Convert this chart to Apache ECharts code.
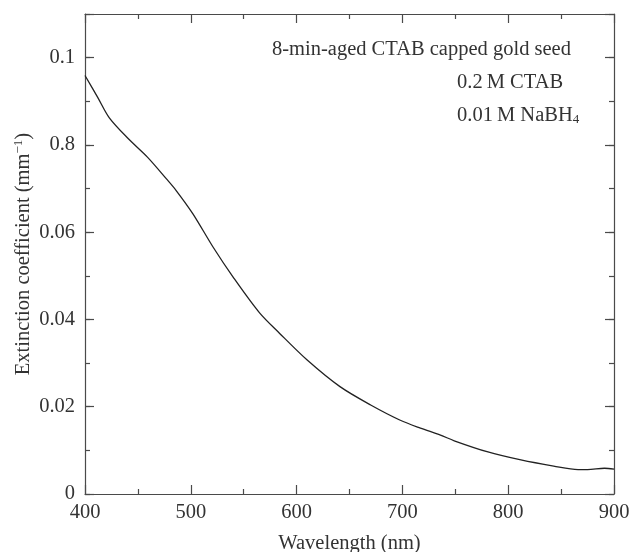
<!DOCTYPE html>
<html>
<head>
<meta charset="utf-8">
<script src="https://cdn.jsdelivr.net/npm/echarts@6/dist/echarts.min.js"></script>
<style>
html,body{margin:0;padding:0;background:#fff;}
#chart{width:633px;height:552px;}
</style>
</head>
<body>
<div id="chart"></div>
<script>
// Data
const wavelength = [400, 412, 423, 441, 459, 477, 486, 502, 521, 540, 565, 584, 610, 641, 670, 698, 717, 736, 749, 780, 812, 843, 866, 875, 891, 900];
const extinction = [0.0959, 0.0909, 0.0862, 0.0814, 0.0772, 0.0722, 0.0696, 0.0642, 0.0566, 0.0497, 0.0415, 0.0368, 0.0307, 0.0246, 0.0204, 0.0169, 0.0151, 0.0135, 0.0122, 0.0097, 0.0078, 0.0064, 0.0056, 0.0056, 0.0059, 0.0057];
const xTickLabels = ['400', '500', '600', '700', '800', '900'];
const yTickValues = [0, 0.02, 0.04, 0.06, 0.08, 0.1];
const yTickLabels = ['0', '0.02', '0.04', '0.06', '0.8', '0.1'];
const annotations = ['8-min-aged CTAB capped gold seed', '0.2\u2009M CTAB', '0.01\u2009M NaBH{sub|4}'];

const FONT = 'Liberation Serif';
const TXT = '#333';
const AX = '#4a4a4a';

const seriesData = wavelength.map((w, i) => [w, extinction[i]]);

function yFmt(v) {
  for (let i = 0; i < yTickValues.length; i++) {
    if (Math.abs(v - yTickValues[i]) < 1e-9) return yTickLabels[i];
  }
  return '';
}
function xFmt(v) {
  const s = String(Math.round(v));
  return xTickLabels.indexOf(s) >= 0 ? s : '';
}

const axisLine = { show: true, onZero: false, lineStyle: { color: AX, width: 1.2 } };
const noLine = { show: false, onZero: false };

const chart = echarts.init(document.getElementById('chart'), null, { renderer: 'canvas' });
chart.setOption({
  backgroundColor: '#fff',
  animation: false,
  grid: { left: 85, right: 19, top: 14, bottom: 58, containLabel: false, outerBoundsMode: 'none' },
  xAxis: [
    {
      type: 'value', position: 'bottom', min: 400, max: 900, interval: 100,
      axisLine: axisLine,
      axisTick: { show: true, inside: true, length: 9, lineStyle: { color: AX, width: 1.2 } },
      minorTick: { show: true, splitNumber: 2, length: 5, lineStyle: { color: AX, width: 1.2 } },
      splitLine: { show: false },
      axisLabel: { show: true, margin: 8, formatter: xFmt, color: TXT, fontFamily: FONT, fontSize: 20.5 },
      name: 'Wavelength (nm)', nameLocation: 'middle', nameGap: 39, nameMoveOverlap: false,
      nameTextStyle: { color: TXT, fontFamily: FONT, fontSize: 20.5 }
    },
    {
      type: 'value', position: 'top', min: 400, max: 900, interval: 100,
      axisLine: axisLine,
      axisTick: { show: true, inside: true, length: 9, lineStyle: { color: AX, width: 1.2 } },
      minorTick: { show: true, splitNumber: 2, length: 5, lineStyle: { color: AX, width: 1.2 } },
      splitLine: { show: false },
      axisLabel: { show: false }
    }
  ],
  yAxis: [
    {
      type: 'value', position: 'left', min: 0, max: 0.11, interval: 0.02,
      axisLine: axisLine,
      axisTick: { show: true, inside: true, length: 9, lineStyle: { color: AX, width: 1.2 } },
      splitLine: { show: false },
      axisLabel: { show: true, margin: 10, formatter: yFmt, color: TXT, fontFamily: FONT, fontSize: 20.5 },
      name: 'Extinction coefficient (mm{sup|\u22121})', nameLocation: 'middle', nameGap: 50, nameMoveOverlap: false,
      nameTextStyle: {
        color: TXT, fontFamily: FONT, fontSize: 20.5,
        rich: { sup: { fontSize: 13, verticalAlign: 'top', padding: [0, 0, 10, 0], color: TXT, fontFamily: FONT } }
      }
    },
    {
      type: 'value', position: 'left', offset: 0, min: 0, max: 0.11, interval: 0.01,
      axisLine: noLine,
      axisTick: { show: true, inside: true, length: 5, lineStyle: { color: AX, width: 1.2 } },
      splitLine: { show: false },
      axisLabel: { show: false }
    },
    {
      type: 'value', position: 'right', min: 0, max: 0.11, interval: 0.02,
      axisLine: axisLine,
      axisTick: { show: true, inside: true, length: 9, lineStyle: { color: AX, width: 1.2 } },
      splitLine: { show: false },
      axisLabel: { show: false }
    },
    {
      type: 'value', position: 'right', offset: 0, min: 0, max: 0.11, interval: 0.01,
      axisLine: noLine,
      axisTick: { show: true, inside: true, length: 5, lineStyle: { color: AX, width: 1.2 } },
      splitLine: { show: false },
      axisLabel: { show: false }
    }
  ],
  series: [
    {
      type: 'line', xAxisIndex: 0, yAxisIndex: 0,
      data: seriesData, smooth: 0.3, showSymbol: false,
      lineStyle: { color: '#222', width: 1.3 }
    }
  ],
  graphic: [
    {
      type: 'text', left: 272, top: 39,
      style: { text: annotations[0], fill: TXT, font: '20.5px "Liberation Serif"' }
    },
    {
      type: 'text', left: 457, top: 72,
      style: { text: annotations[1], fill: TXT, font: '20.5px "Liberation Serif"' }
    },
    {
      type: 'text', left: 457, top: 105,
      style: {
        text: annotations[2], fill: TXT, font: '20.5px "Liberation Serif"',
        rich: { sub: { fontSize: 13, fontFamily: FONT, fill: TXT, verticalAlign: 'bottom', padding: [8, 0, 0, 0] } }
      }
    }
  ]
});
</script>
</body>
</html>
